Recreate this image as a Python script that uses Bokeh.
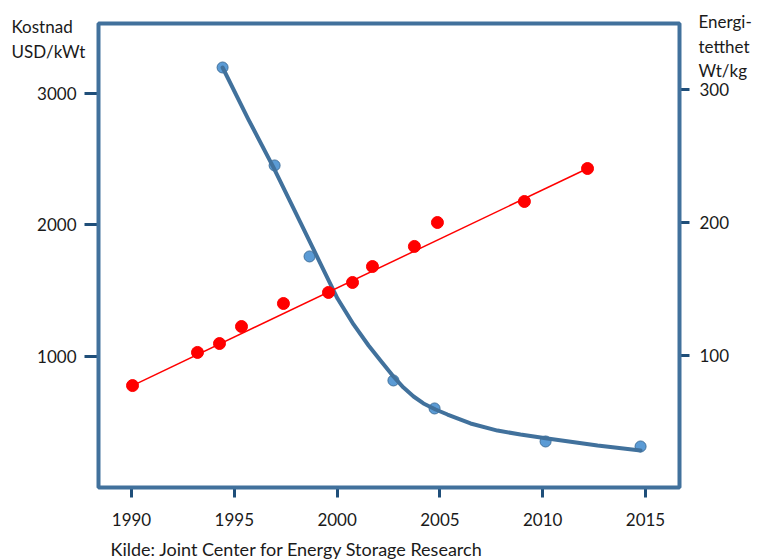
from bokeh.plotting import figure
from bokeh.models import Range1d, LinearAxis, FixedTicker, Label, BoxAnnotation
from bokeh.embed import file_html
from bokeh.resources import INLINE

# ---- data ----
year_ticks = [1990, 1995, 2000, 2005, 2010, 2015]
cost_ticks = [1000, 2000, 3000]
density_ticks = [100, 200, 300]

cost_years = [1994.43, 1996.96, 1998.66, 2002.74, 2004.74, 2010.14, 2014.76]
cost_values = [3194, 2449, 1757, 814, 601, 350, 312]

cost_trend_years = [1994.43, 1995.69, 1996.91, 1998.22, 1999.19, 2000.02, 2000.80,
                    2001.53, 2002.11, 2002.74, 2003.23, 2003.72, 2004.20, 2004.79,
                    2005.37, 2006.49, 2007.80, 2008.92, 2010.23, 2012.67, 2014.76]
cost_trend_values = [3194, 2798, 2433, 2015, 1703, 1437, 1240, 1080, 966, 844, 760,
                     692, 639, 593, 555, 487, 433, 403, 373, 319, 281]

density_years = [1990.05, 1993.21, 1994.28, 1995.35, 1997.39, 1999.58, 2000.75,
                 2001.72, 2003.76, 2004.88, 2009.11, 2012.18]
density_values = [77.4, 102.3, 109.0, 121.8, 139.1, 147.4, 154.9, 166.9, 182.0,
                  200.0, 215.8, 240.6]
density_trend_years = [1990.05, 2012.18]
density_trend_values = [77.4, 240.6]

left_title = ["Kostnad", "USD/kWt"]
right_title = ["Energi-", "tetthet", "Wt/kg"]
caption = "Kilde: Joint Center  for Energy Storage Research"

# ---- layout (the whole canvas is the plotting frame; the visible box is drawn) ----
W, H = 757, 560
PX_1990, PX_PER_YEAR = 131, 20.56      # horizontal placement
PY_ZERO_L, PX_PER_COST = 487, 0.1315   # left scale
PY_ZERO_R, PX_PER_DENS = 488, 1.33     # right scale
BOX_L, BOX_R, BOX_T, BOX_B = 98, 679, 23, 487
RIGHT_LABEL_X = 699

FONT = "Lato"
FS = "17px"
TXT = "#1a1a1a"
BLUE_EDGE = "#41719C"
BLUE_FILL = "#5B9BD5"
TICK = "#1F4E79"


def dx(px):
    return 1990 + (px - PX_1990) / PX_PER_YEAR


def dy(py):
    return (PY_ZERO_L - py) / PX_PER_COST


p = figure(width=W, height=H, output_backend="svg", toolbar_location=None,
           x_range=Range1d(dx(0), dx(W)), y_range=Range1d(dy(H), dy(0)),
           min_border=0)
p.extra_y_ranges = {"r": Range1d((PY_ZERO_R - H) / PX_PER_DENS, PY_ZERO_R / PX_PER_DENS)}
p.grid.visible = False
p.background_fill_color = "white"
p.border_fill_color = "white"
p.outline_line_color = None


def style_axis(ax, tick_out, standoff):
    ax.axis_line_color = None
    ax.major_tick_line_color = TICK
    ax.major_tick_line_width = 3
    ax.major_tick_in = 0
    ax.major_tick_out = tick_out
    ax.minor_tick_line_color = None
    ax.major_label_text_font = FONT
    ax.major_label_text_font_size = FS
    ax.major_label_text_color = TXT
    ax.major_label_standoff = standoff


p.xaxis.ticker = FixedTicker(ticks=year_ticks)
p.yaxis.ticker = FixedTicker(ticks=cost_ticks)
p.xaxis.fixed_location = dy(BOX_B)
p.yaxis.fixed_location = dx(BOX_L)
style_axis(p.xaxis[0], 10, 15)
style_axis(p.yaxis[0], 14, 8)

# right axis: ticks at the box edge, labels a little further out
ra_ticks = LinearAxis(y_range_name="r", ticker=FixedTicker(ticks=density_ticks),
                      fixed_location=dx(BOX_R))
style_axis(ra_ticks, 10, 0)
ra_ticks.major_label_text_color = None
p.add_layout(ra_ticks, "right")

ra = LinearAxis(y_range_name="r", ticker=FixedTicker(ticks=density_ticks),
                fixed_location=dx(RIGHT_LABEL_X))
style_axis(ra, 0, 0)
ra.major_tick_line_color = None
p.add_layout(ra, "right")

# cost series (left axis)
p.scatter(cost_years, cost_values, size=11, fill_color=BLUE_FILL,
          line_color=BLUE_EDGE, line_width=1)
p.line(cost_trend_years, cost_trend_values, line_color=BLUE_EDGE, line_width=4,
       line_join="round", line_cap="round")

# energy density series (right axis)
p.line(density_trend_years, density_trend_values, y_range_name="r",
       line_color="red", line_width=1.5)
p.scatter(density_years, density_values, y_range_name="r", size=12,
          fill_color="red", line_color="red", line_width=1)

# plot-area box
p.add_layout(BoxAnnotation(left=dx(BOX_L), right=dx(BOX_R), top=dy(BOX_T),
                           bottom=dy(BOX_B), fill_color=None, fill_alpha=0,
                           line_color=BLUE_EDGE, line_alpha=1, line_width=4))


def add_text(text, px, py, size=FS):
    p.add_layout(Label(x=dx(px), y=dy(py), text=text, text_font=FONT,
                       text_font_size=size, text_color=TXT,
                       text_baseline="alphabetic", text_align="left"))


for i, t in enumerate(left_title):
    add_text(t, 11, 26 + 25 * i)
for i, t in enumerate(right_title):
    add_text(t, 698, 21 + 24.5 * i)
add_text(caption, 110, 548, "18px")

open("out.html", "w").write(file_html(p, INLINE))
